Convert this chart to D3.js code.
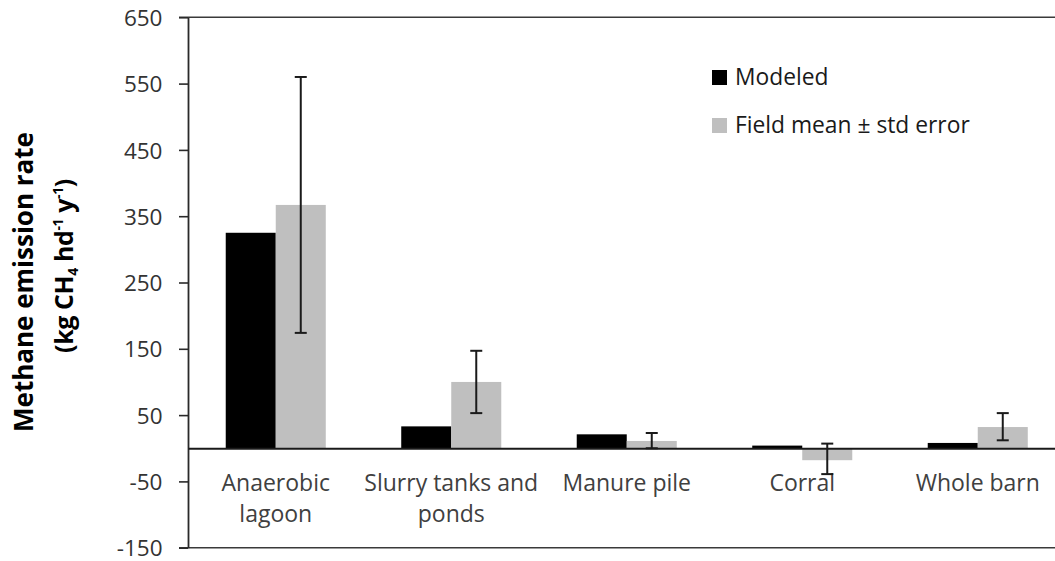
<!DOCTYPE html>
<html>
<head>
<meta charset="utf-8">
<script src="https://cdn.jsdelivr.net/npm/d3@7"></script>
<style>
  body { margin: 0; background: #fff; }
  svg { display: block; font-family: "Open Sans", sans-serif; }
</style>
</head>
<body>
<svg width="1055" height="561"></svg>
<script>
// values
let categories = ['Anaerobic lagoon', 'Slurry tanks and ponds', 'Manure pile', 'Corral', 'Whole barn'];
let labelLines = [['Anaerobic', 'lagoon'], ['Slurry tanks and', 'ponds'], ['Manure pile'], ['Corral'], ['Whole barn']];
let seriesNames = ['Modeled', 'Field mean \u00b1 std error'];
let modeled = [325, 33, 21, 4, 8];
let fieldMean = [367, 100, 11, -18, 32];
let errLow = [174, 53, 0, -39, 12];
let errHigh = [560, 147, 23, 7, 53];
let yTicks = [-150, -50, 50, 150, 250, 350, 450, 550, 650];

let colors = ['#000000', '#bfbfbf'];
let textColor = '#404040';

let svg = d3.select('svg');

let plotLeft = 188, plotRight = 1065.5, plotTop = 17.3, plotBottom = 547.7;

let y = d3.scaleLinear().domain([-150, 650]).range([plotBottom, plotTop]);
let x0 = d3.scaleBand().domain(categories).range([plotLeft, plotRight])
  .paddingInner(0.43).paddingOuter(0.215);
let x1 = d3.scaleBand().domain(seriesNames).range([0, x0.bandwidth()]);

// frame top / bottom (right edge falls outside the picture)
svg.append('line').attr('x1', plotLeft - 9).attr('x2', plotRight)
  .attr('y1', y(650)).attr('y2', y(650))
  .attr('stroke', '#3a3a3a').attr('stroke-width', 1.6);
svg.append('line').attr('x1', plotLeft - 9).attr('x2', plotRight)
  .attr('y1', y(-150)).attr('y2', y(-150))
  .attr('stroke', '#3a3a3a').attr('stroke-width', 1.6);

// y axis, plain hyphen for negatives like the source
let yAxis = svg.append('g')
  .attr('transform', `translate(${plotLeft},0)`)
  .call(d3.axisLeft(y).tickValues(yTicks).tickFormat(d => String(d))
    .tickSize(9).tickSizeOuter(0).tickPadding(16.5));
yAxis.select('.domain').attr('stroke', '#2a2a2a').attr('stroke-width', 1.8);
yAxis.selectAll('.tick line').attr('stroke', '#2a2a2a').attr('stroke-width', 1.6);
yAxis.selectAll('.tick text')
  .attr('fill', '#333')
  .attr('font-family', '"Open Sans", sans-serif')
  .attr('font-size', 22.5)
  .attr('dy', '0.36em');

// bars
let rows = categories.map((c, i) => ({
  cat: c,
  vals: [modeled[i], fieldMean[i]],
  lo: errLow[i],
  hi: errHigh[i]
}));

svg.append('g').selectAll('g')
  .data(rows)
  .enter()
  .append('g')
  .attr('transform', d => `translate(${x0(d.cat)},0)`)
  .selectAll('rect')
  .data(d => d.vals.map((v, k) => ({ name: seriesNames[k], v: v, k: k })))
  .enter()
  .append('rect')
  .attr('x', d => x1(d.name))
  .attr('width', x1.bandwidth())
  .attr('y', d => y(Math.max(0, d.v)))
  .attr('height', d => Math.abs(y(d.v) - y(0)))
  .attr('fill', d => colors[d.k]);

// x axis along zero, labels placed below it
let xAxis = svg.append('g')
  .attr('transform', `translate(0,${y(0)})`)
  .call(d3.axisBottom(x0).tickSize(0).tickSizeOuter(0));
xAxis.select('.domain').attr('stroke', '#1a1a1a').attr('stroke-width', 1.8);
xAxis.selectAll('.tick text').each(function (d, i) {
  let t = d3.select(this);
  t.text(null).attr('y', 0).attr('dy', null)
    .attr('fill', textColor)
    .attr('font-family', '"Open Sans", sans-serif')
    .attr('font-size', 23);
  labelLines[i].forEach((ln, j) => {
    t.append('tspan').attr('x', 0).attr('y', 42.5 + j * 31.5).text(ln);
  });
});

// error bars on the field series (drawn over the labels, as in the source)
let capW = 12;
let errG = svg.append('g').selectAll('g')
  .data(rows)
  .enter()
  .append('g')
  .attr('transform', d => `translate(${x0(d.cat) + x1(seriesNames[1]) + x1.bandwidth() / 2},0)`);
errG.append('line')
  .attr('x1', 0).attr('x2', 0)
  .attr('y1', d => y(d.lo)).attr('y2', d => y(d.hi))
  .attr('stroke', '#1a1a1a').attr('stroke-width', 2);
errG.append('line')
  .attr('x1', -capW / 2).attr('x2', capW / 2)
  .attr('y1', d => y(d.hi)).attr('y2', d => y(d.hi))
  .attr('stroke', '#1a1a1a').attr('stroke-width', 2);
errG.append('line')
  .attr('x1', -capW / 2).attr('x2', capW / 2)
  .attr('y1', d => y(d.lo)).attr('y2', d => y(d.lo))
  .attr('stroke', '#1a1a1a').attr('stroke-width', 2);

// y axis title
let title = svg.append('g')
  .attr('fill', '#000')
  .attr('font-weight', 'bold')
  .attr('text-anchor', 'middle');
title.append('text')
  .attr('font-size', 26)
  .attr('transform', 'translate(33,282) rotate(-90)')
  .text('Methane emission rate');
let t2 = title.append('text')
  .attr('font-size', 25)
  .attr('letter-spacing', -0.4)
  .attr('transform', 'translate(73,266) rotate(-90)');
t2.append('tspan').text('(kg CH');
t2.append('tspan').attr('font-size', 14).attr('dy', 5).text('4');
t2.append('tspan').attr('dy', -5).text(' hd');
t2.append('tspan').attr('font-size', 14).attr('dy', -10).text('-1');
t2.append('tspan').attr('dy', 10).text(' y');
t2.append('tspan').attr('font-size', 14).attr('dy', -10).text('-1');
t2.append('tspan').attr('dy', 10).text(')');

// legend
let legend = svg.append('g').selectAll('g')
  .data(seriesNames)
  .enter()
  .append('g')
  .attr('transform', (d, i) => `translate(712,${70 + i * 48})`);
legend.append('rect')
  .attr('width', 15).attr('height', 15)
  .attr('fill', (d, i) => colors[i]);
legend.append('text')
  .attr('x', 23).attr('y', 15)
  .attr('fill', '#1a1a1a')
  .attr('font-size', 22.8)
  .text(d => d);
</script>
</body>
</html>
